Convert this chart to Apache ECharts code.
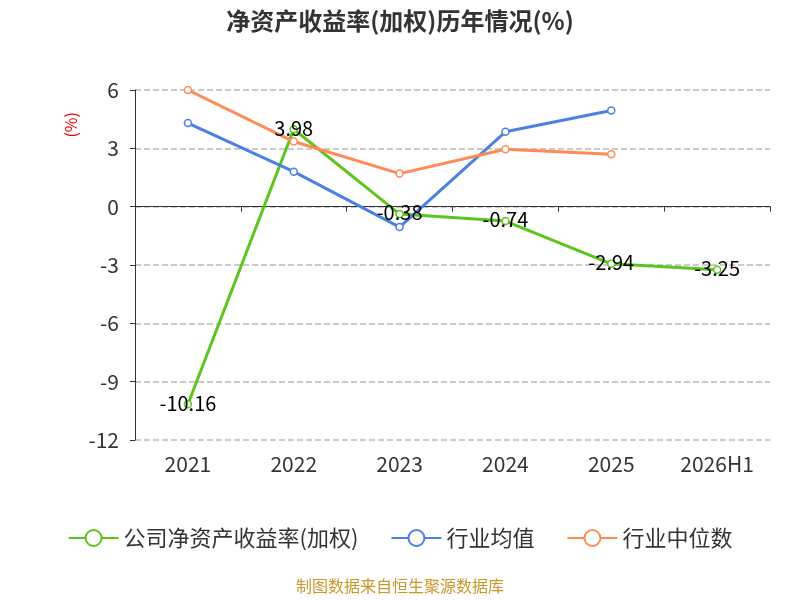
<!DOCTYPE html>
<html>
<head>
<meta charset="utf-8">
<script src="https://cdn.jsdelivr.net/npm/echarts@6/dist/echarts.min.js"></script>
<style>html,body{margin:0;padding:0;background:#fff}#main{width:800px;height:600px}</style>
</head>
<body>
<div id="main"></div>
<script>
var years = ["2021", "2022", "2023", "2024", "2025", "2026H1"];
var company = [-10.16, 3.98, -0.38, -0.74, -2.94, -3.25];
var industryMean = [4.3, 1.8, -1.05, 3.85, 4.95, null];
var industryMedian = [6.0, 3.35, 1.7, 2.95, 2.7, null];

var chart = echarts.init(document.getElementById('main'));
var font = "'Noto Sans CJK SC', 'Noto Sans', sans-serif";

function lineSeries(name, data, color, withLabel) {
    return {
        name: name,
        type: 'line',
        data: data,
        symbol: 'circle',
        symbolSize: 7,
        lineStyle: { width: 3, color: color },
        itemStyle: { color: '#fff', borderColor: color, borderWidth: 1.5 },
        label: {
            show: withLabel,
            position: 'top',
            distance: 0,
            offset: [0, 13],
            color: '#000',
            fontSize: 20,
            fontFamily: font
        }
    };
}

var option = {
    animation: false,
    title: {
        text: '净资产收益率(加权)历年情况(%)',
        left: 'center',
        top: 4,
        textStyle: { fontSize: 24, fontWeight: 'bold', color: '#333', fontFamily: font }
    },
    legend: {
        bottom: 46,
        itemWidth: 50,
        itemHeight: 20,
        itemGap: 32,
        textStyle: { fontSize: 22, color: '#333', fontFamily: font },
        data: ['公司净资产收益率(加权)', '行业均值', '行业中位数']
    },
    grid: { left: 135, right: 30, top: 90, bottom: 160 },
    xAxis: [{
        type: 'category',
        data: years,
        axisLine: { onZero: true, lineStyle: { color: '#333' } },
        axisTick: { show: true, lineStyle: { color: '#333' } },
        axisLabel: { show: false }
    }, {
        type: 'category',
        data: years,
        position: 'bottom',
        axisLine: { show: false },
        axisTick: { show: false },
        axisLabel: { fontSize: 21, color: '#333', margin: 14, fontFamily: font }
    }],
    yAxis: {
        type: 'value',
        min: -12,
        max: 6,
        interval: 3,
        axisLine: { show: true, lineStyle: { color: '#333' } },
        axisTick: { show: true },
        axisLabel: { fontSize: 21, color: '#333', margin: 16, fontFamily: font },
        splitLine: { lineStyle: { type: 'dashed', color: '#bbb', width: 1.5 } }
    },
    graphic: [{
        type: 'text',
        left: 63,
        top: 112,
        rotation: Math.PI / 2,
        style: { text: '(%)', fill: '#e00', fontSize: 16, fontFamily: font }
    }, {
        type: 'text',
        left: 'center',
        top: 578,
        style: { text: '制图数据来自恒生聚源数据库', fill: '#c8962a', fontSize: 16, fontFamily: font }
    }],
    series: [
        lineSeries('公司净资产收益率(加权)', company, '#5cc51d', true),
        lineSeries('行业均值', industryMean, '#4d80e4', false),
        lineSeries('行业中位数', industryMedian, '#ff8a55', false)
    ]
};
chart.setOption(option);
</script>
</body>
</html>
